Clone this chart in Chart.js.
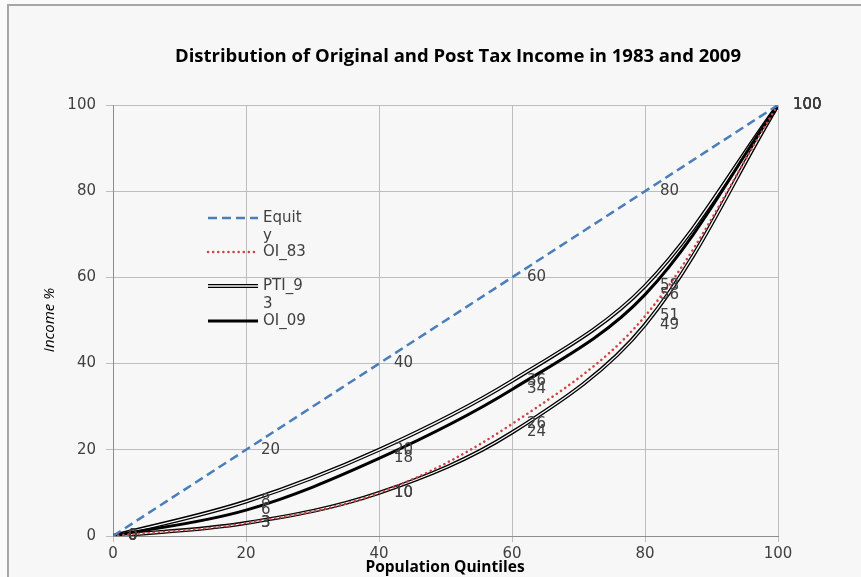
<!DOCTYPE html>
<html>
<head>
<meta charset="utf-8">
<script src="https://cdn.jsdelivr.net/npm/chart.js@4.4.1/dist/chart.umd.min.js"></script>
<style>
	html, body { margin: 0; padding: 0; background: #fafafa; }
	canvas { display: block; }
</style>
</head>
<body>
<canvas id="lorenz" width="861" height="577"></canvas>
<script>
'use strict';

// population quintiles (x) and cumulative income share (y)
const quintiles = [0, 20, 40, 60, 80, 100];
const equity = [0, 20, 40, 60, 80, 100];
const oi83 = [0, 3, 10, 26, 51, 100];
const pti93 = [0, 8, 20, 36, 58, 100];
const oi09 = [0, 6, 18, 34, 56, 100];
const pti09 = [0, 3, 10, 24, 49, 100];
const xTicks = [0, 20, 40, 60, 80, 100];
const yTicks = [0, 20, 40, 60, 80, 100];

const chartTitle = 'Distribution of Original and Post Tax Income in 1983 and 2009';
const xTitle = 'Population Quintiles';
const yTitle = 'Income %';

function points(values) {
	return values.map((v, i) => ({ x: quintiles[i], y: v }));
}

function series(label, values, style) {
	return Object.assign({
		label: label,
		data: points(values),
		fill: false,
		pointRadius: 0,
		tension: 0.35,
		showLabels: true
	}, style);
}

const datasets = [
	series('Equity', equity, { borderColor: '#4a7ebb', borderWidth: 2.5, borderDash: [9, 5], order: 1 }),
	series('OI_83', oi83, { borderColor: '#cc4444', borderWidth: 2.5, borderDash: [0.1, 5], borderCapStyle: 'round', order: 3 }),
	series('PTI_93', pti93, { borderColor: '#000000', borderWidth: 4, order: 6 }),
	series('PTI_93 inner', pti93, { borderColor: '#f7f7f7', borderWidth: 1.3, order: 5, showLabels: false }),
	series('OI_09', oi09, { borderColor: '#000000', borderWidth: 3, order: 4 }),
	series('PTI_09', pti09, { borderColor: '#000000', borderWidth: 4, order: 8 }),
	series('PTI_09 inner', pti09, { borderColor: '#f7f7f7', borderWidth: 1.3, order: 7, showLabels: false })
];

const frame = {
	id: 'frame',
	beforeDraw(chart) {
		const ctx = chart.ctx;
		ctx.save();
		ctx.fillStyle = '#fafafa';
		ctx.fillRect(0, 0, chart.width, chart.height);
		ctx.fillStyle = '#f7f7f7';
		ctx.fillRect(8, 5, chart.width, chart.height);
		ctx.strokeStyle = '#a6a6a6';
		ctx.lineWidth = 2;
		ctx.beginPath();
		ctx.moveTo(8, chart.height);
		ctx.lineTo(8, 5);
		ctx.lineTo(chart.width, 5);
		ctx.stroke();
		ctx.restore();
	}
};

const texts = {
	id: 'texts',
	afterDatasetsDraw(chart) {
		const ctx = chart.ctx;
		const xs = chart.scales.x;
		const ys = chart.scales.y;
		ctx.save();

		// value labels next to each point
		ctx.font = '15px "DejaVu Sans"';
		ctx.fillStyle = '#404040';
		ctx.textAlign = 'left';
		ctx.textBaseline = 'middle';
		chart.data.datasets.forEach((ds) => {
			if (!ds.showLabels) {
				return;
			}
			ds.data.forEach((p) => {
				ctx.fillText(String(p.y), xs.getPixelForValue(p.x) + 15, ys.getPixelForValue(p.y));
			});
		});

		// title
		ctx.fillStyle = '#000000';
		ctx.textAlign = 'center';
		ctx.font = 'bold 18.5px "Open Sans"';
		ctx.fillText(chartTitle, 458, 57);

		// axis titles
		ctx.font = 'bold 15.5px "Open Sans"';
		ctx.fillText(xTitle, 445, 568);
		ctx.save();
		ctx.translate(50, 320);
		ctx.rotate(-Math.PI / 2);
		ctx.font = 'italic 15px "Open Sans"';
		ctx.fillText(yTitle, 0, 0);
		ctx.restore();

		// legend (wrapped like the original)
		const legend = [
			{ y: 218, lines: ['Equit', 'y'], ds: 0 },
			{ y: 252, lines: ['OI_83'], ds: 1 },
			{ y: 286, lines: ['PTI_9', '3'], ds: 2, inner: 3 },
			{ y: 321, lines: ['OI_09'], ds: 4 }
		];
		legend.forEach((item) => {
			[item.ds, item.inner].forEach((k) => {
				if (k === undefined) {
					return;
				}
				const d = chart.data.datasets[k];
				ctx.strokeStyle = d.borderColor;
				ctx.lineWidth = d.borderWidth;
				ctx.setLineDash(d.borderDash || []);
				ctx.lineCap = d.borderCapStyle || 'butt';
				ctx.beginPath();
				ctx.moveTo(208, item.y);
				ctx.lineTo(258, item.y);
				ctx.stroke();
			});
			ctx.setLineDash([]);
			ctx.font = '15px "DejaVu Sans"';
			ctx.fillStyle = '#404040';
			ctx.textAlign = 'left';
			item.lines.forEach((line, j) => {
				ctx.fillText(line, 263, item.y + j * 18);
			});
		});

		ctx.restore();
	}
};

new Chart(document.getElementById('lorenz'), {
	type: 'line',
	data: { datasets: datasets },
	plugins: [frame, texts],
	options: {
		responsive: false,
		animation: false,
		devicePixelRatio: 1,
		layout: { padding: { top: 105, right: 83, left: 0, bottom: 0 } },
		plugins: { legend: { display: false }, tooltip: { enabled: false }, title: { display: false } },
		scales: {
			x: {
				type: 'linear',
				min: 0,
				max: 100,
				afterBuildTicks: (s) => { s.ticks = xTicks.map((v) => ({ value: v })); },
				afterFit: (s) => { s.height = 41; },
				ticks: { color: '#404040', font: { family: 'DejaVu Sans', size: 15 }, padding: 3, maxRotation: 0 },
				grid: { color: '#bdbdbd', tickLength: 6 },
				border: { color: '#8c8c8c' }
			},
			y: {
				type: 'linear',
				min: 0,
				max: 100,
				afterBuildTicks: (s) => { s.ticks = yTicks.map((v) => ({ value: v })); },
				afterFit: (s) => { s.width = 113; },
				ticks: { color: '#404040', font: { family: 'DejaVu Sans', size: 15 }, padding: 10 },
				grid: { color: '#bdbdbd', tickLength: 7 },
				border: { color: '#8c8c8c' }
			}
		}
	}
});
</script>
</body>
</html>
